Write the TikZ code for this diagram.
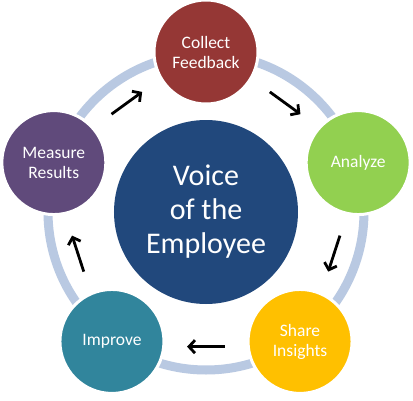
\documentclass[tikz,border=0pt]{standalone}
\usepackage{fontspec}
\setmainfont{Carlito}
\usepackage{tikz}
\usetikzlibrary{arrows.meta,positioning,calc}
\definecolor{ringblue}{RGB}{185,201,226}
\definecolor{voiceblue}{RGB}{33,72,124}
\definecolor{collectred}{RGB}{149,55,53}
\definecolor{analyzegreen}{RGB}{146,208,80}
\definecolor{shareyellow}{RGB}{255,192,0}
\definecolor{improveteal}{RGB}{49,133,156}
\definecolor{measurepurple}{RGB}{96,74,123}

\begin{document}
\begin{tikzpicture}[x=1pt,y=1pt,
	stage/.style={circle, minimum size=104pt, inner sep=0pt, draw=white, line width=3pt, text=white, align=center, font=\fontsize{17.5}{20}\selectfont},
	flow/.style={line width=2.8pt, -{Straight Barb[length=6pt,width=13pt]}}]
						\fill[white] (-206,-188) rectangle (207,212);
						\useasboundingbox (-206,-188) rectangle (207,212);
						% ring behind the stages
						\draw[ringblue, line width=9pt] (0,0) circle (158);
						\node[circle, fill=voiceblue, minimum size=184pt, text=white, align=center, font=\fontsize{30}{34}\selectfont] (voice) at (0,0) {Voice\\of the\\Employee};
						\node[stage, fill=collectred] (collect) at (90:160) {Collect\\Feedback};
						\node[stage, fill=analyzegreen] (analyze) at (18:160) {Analyze};
						\node[stage, fill=shareyellow] (share) at (-54:160) {Share\\Insights};
						\node[stage, fill=improveteal] (improve) at (-126:160) {Improve};
						\node[stage, fill=measurepurple] (measure) at (162:160) {Measure\\Results};
						% arrows between the stages, clockwise
						\foreach \m in {126,54,-18,-90,-162} {
							\coordinate (s\m) at (\m+8:136);
							\coordinate (e\m) at (\m-8:136);
							\draw[flow] (s\m) -- (e\m);
						}
					\end{tikzpicture}
\end{document}
